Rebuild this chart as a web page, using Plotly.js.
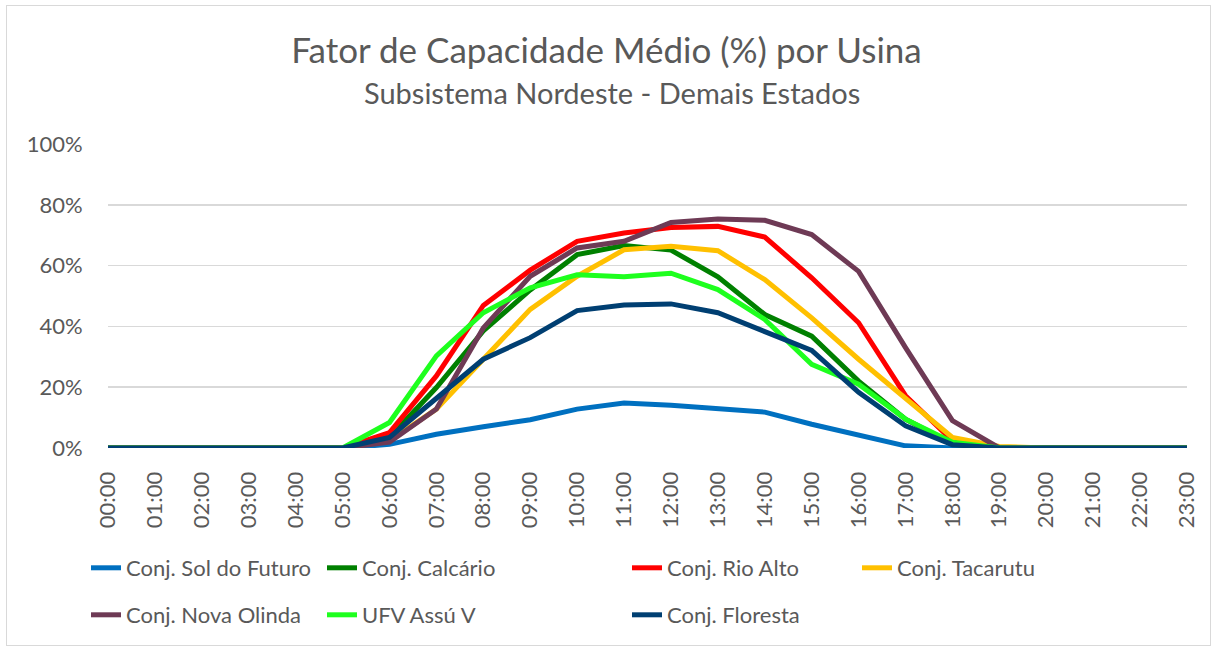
<!DOCTYPE html>
<html>
<head>
<meta charset="utf-8">
<script src="https://cdn.plot.ly/plotly-3.0.1.min.js"></script>
<style>
html,body{margin:0;padding:0;background:#fff;}
#chart{position:absolute;left:0;top:0;width:1213px;height:648px;}
#frame{position:absolute;left:6px;top:5px;width:1205px;height:641px;border:1.5px solid #d9d9d9;box-sizing:border-box;pointer-events:none;}
</style>
</head>
<body>
<div id="chart"></div>
<div id="frame"></div>
<script>
const hours = ["00:00","01:00","02:00","03:00","04:00","05:00","06:00","07:00","08:00","09:00","10:00","11:00",
               "12:00","13:00","14:00","15:00","16:00","17:00","18:00","19:00","20:00","21:00","22:00","23:00"];

const seriesNames = ["Conj. Sol do Futuro","Conj. Calcário","Conj. Rio Alto","Conj. Tacarutu",
                     "Conj. Nova Olinda","UFV Assú V","Conj. Floresta"];

const solDoFuturo = [0,0,0,0,0,0, 1.2, 4.5, 7.0, 9.3, 12.8, 14.8, 14.1, 12.9, 11.8, 7.8, 4.2, 0.7, 0, 0, 0,0,0,0];
const calcario    = [0,0,0,0,0,0, 3.5, 19.9, 38.5, 52.0, 63.6, 66.6, 65.1, 56.3, 43.9, 36.8, 22.0, 9.5, 1.3, 0, 0,0,0,0];
const rioAlto     = [0,0,0,0,0,0, 5.1, 23.7, 46.9, 58.5, 68.0, 70.7, 72.5, 72.9, 69.4, 56.0, 41.2, 17.2, 2.4, 0, 0,0,0,0];
const tacarutu    = [0,0,0,0,0,0, 2.4, 12.8, 29.2, 45.6, 56.5, 65.2, 66.4, 64.9, 55.4, 42.8, 29.2, 16.1, 3.5, 0.5, 0,0,0,0];
const novaOlinda  = [0,0,0,0,0,0, 1.9, 12.8, 39.5, 56.5, 65.8, 68.0, 74.2, 75.3, 74.9, 70.2, 58.1, 33.0, 9.0, 0, 0,0,0,0];
const assuV       = [0,0,0,0,0,0, 8.4, 30.3, 44.5, 52.7, 57.0, 56.3, 57.5, 52.1, 42.3, 27.5, 21.0, 9.5, 1.9, 0, 0,0,0,0];
const floresta    = [0,0,0,0,0,0, 3.5, 16.1, 29.2, 36.3, 45.2, 47.0, 47.4, 44.5, 38.1, 32.1, 18.3, 7.3, 1.1, 0, 0,0,0,0];

const yTicks = [0, 20, 40, 60, 80, 100];
const yTickLabels = ["0%", "20%", "40%", "60%", "80%", "100%"];

const titleText = "Fator de Capacidade Médio (%) por Usina";
const subtitleText = "Subsistema Nordeste - Demais Estados";

const seriesValues = [solDoFuturo, calcario, rioAlto, tacarutu, novaOlinda, assuV, floresta];
const colors = ["#0070C0","#008000","#FF0000","#FFC000","#6E3A55","#1EFF1E","#003F72"];
const legendOf = ["legend","legend","legend2","legend2","legend3","legend3","legend4"];

const FONT = "Lato, 'Open Sans', sans-serif";
const TXT = "#595959";

const traces = seriesValues.map((vals, i) => ({
  type: "scatter",
  mode: "lines",
  x: hours,
  y: vals,
  name: seriesNames[i],
  legend: legendOf[i],
  line: {color: colors[i], width: 5, shape: "linear"},
  hoverinfo: "x+y+name"
}));

// plot area: x 108..1187 px, y 144..448 px
const px = v => (v - 108) / 1079;
const py = v => (448 - v) / 304;

function mkLegend(xPix, yPix, ew) {
  return {
    orientation: "h",
    xanchor: "left",
    yanchor: "middle",
    x: px(xPix),
    y: py(yPix),
    entrywidth: ew,
    entrywidthmode: "pixels",
    font: {family: FONT, size: 22, color: TXT},
    bgcolor: "rgba(0,0,0,0)",
    itemwidth: 30
  };
}

const layout = {
  width: 1213,
  height: 648,
  margin: {l: 108, r: 26, t: 144, b: 200, pad: 0, autoexpand: false},
  paper_bgcolor: "#ffffff",
  plot_bgcolor: "#ffffff",
  font: {family: FONT, color: TXT},
  showlegend: true,
  title: {
    text: titleText,
    font: {family: FONT, size: 35, color: TXT},
    x: 0.5, xanchor: "center",
    xref: "container",
    y: 1 - 51/648, yanchor: "middle"
  },
  annotations: [{
    text: subtitleText,
    xref: "paper", yref: "paper",
    x: px(612), y: py(93),
    xanchor: "center", yanchor: "middle",
    showarrow: false,
    font: {family: FONT, size: 29, color: TXT}
  }],
  xaxis: {
    type: "category",
    categoryorder: "array",
    categoryarray: hours,
    range: [0, 23],
    showgrid: false,
    zeroline: false,
    showline: false,
    ticks: "outside",
    ticklen: 14,
    tickcolor: "rgba(0,0,0,0)",
    tickangle: -90,
    tickfont: {family: FONT, size: 22, color: TXT},
    automargin: false,
    fixedrange: true
  },
  yaxis: {
    range: [0, 100],
    tickmode: "array",
    tickvals: yTicks,
    ticktext: yTickLabels,
    showgrid: true,
    gridcolor: "#d9d9d9",
    gridwidth: 1.5,
    zeroline: false,
    showline: false,
    ticks: "outside",
    ticklen: 20,
    tickcolor: "rgba(0,0,0,0)",
    tickfont: {family: FONT, size: 22, color: TXT},
    automargin: false,
    fixedrange: true
  },
  legend:  mkLegend(86, 568, 191),
  legend2: mkLegend(627, 568, 185),
  legend3: mkLegend(86, 615, 191),
  legend4: mkLegend(627, 615, 185)
};

Plotly.newPlot("chart", traces, layout, {displayModeBar: false, staticPlot: true});
</script>
</body>
</html>
